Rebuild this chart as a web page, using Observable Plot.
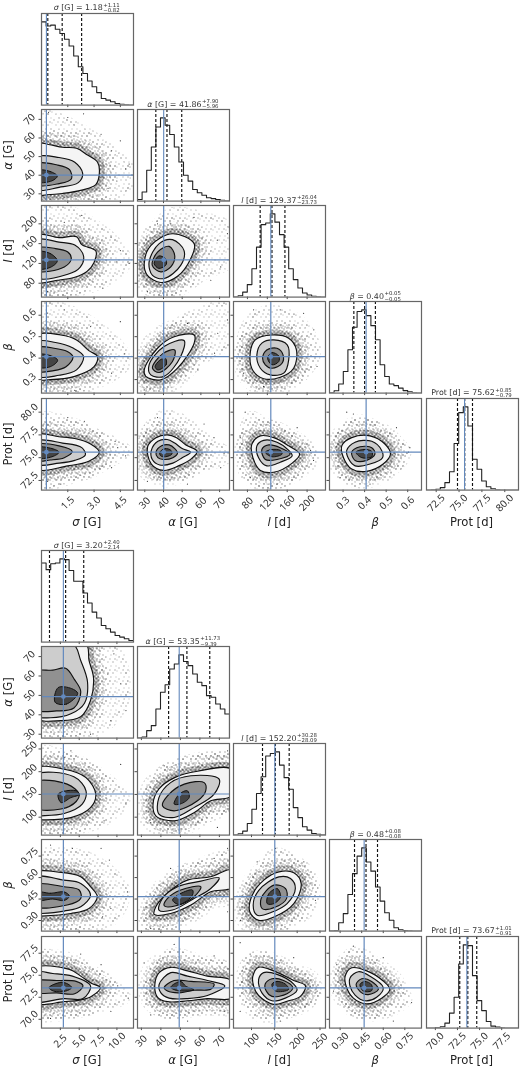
<!DOCTYPE html>
<html><head><meta charset="utf-8">
<script src="https://cdn.jsdelivr.net/npm/d3@7"></script>
<script src="https://cdn.jsdelivr.net/npm/@observablehq/plot@0.6"></script>
<style>
html,body{margin:0;padding:0;background:#fff}
#root{position:relative;width:520px;height:1068px;overflow:hidden;font-family:"DejaVu Sans",sans-serif;color:#222;filter:blur(.38px)}
#root svg{position:absolute;background:transparent;overflow:visible}
.title{position:absolute;transform:translate(-50%,-50%);font-size:7.9px;white-space:nowrap;display:flex;align-items:center;color:#333}
.ss{display:inline-flex;flex-direction:column;font-size:5.4px;line-height:5.2px;margin-left:.5px}
.lab{position:absolute;font-size:11.6px;white-space:nowrap;color:#222}
.lx{transform:translate(-50%,-50%)}
.ly{transform:translate(-50%,-50%) rotate(-90deg)}
</style></head><body>
<svg width="0" height="0" style="position:absolute"><defs id="defs"></defs></svg>
<div id="root"></div>
<script>
// ---------- axis names / ticks / posterior summaries ----------
const labelsHtml = ["<i>σ</i> [G]","<i>α</i> [G]","<i>l</i> [d]","<i>β</i>","Prot [d]"];
const domainsA = [[0,5.25],[26.1,75.3],[52,237],[0.237,0.664],[71.44,81.5]];
const domainsB = [[0,12.2],[28,75.2],[60.6,262],[0.226,0.866],[69,79.4]];
const ticksA = [[1.5,3,4.5],[30,40,50,60,70],[80,120,160,200],[0.3,0.4,0.5,0.6],[72.5,75,77.5,80]];
const ticksB = [[2.5,5,7.5,10],[30,40,50,60,70],[100,150,200,250],[0.3,0.45,0.6,0.75],[70,72.5,75,77.5]];
const formatsA = [".1f","d","d",".1f",".1f"];
const formatsB = [".1f","d","d",".2f",".1f"];
const truthsA = [0.28,40.1,127,0.407,75.6];
const truthsB = [2.9,49.4,151,0.467,73.56];
const mediansA = [1.18,41.86,129.37,0.40,75.62];
const plusA = [1.11,7.90,26.04,0.05,0.85];
const minusA = [0.82,5.96,23.73,0.05,0.79];
const mediansB = [3.20,53.35,152.20,0.48,73.67];
const plusB = [2.40,11.73,30.28,0.08,1.01];
const minusB = [2.14,9.39,28.09,0.08,0.91];

// ---------- 1D histograms (20 bins, relative height) ----------
const histA_sigma = [100,95,96,91,86,79,71,59,46,38,29,22,15,8,6,4,2,1,.5,.1];
const histA_alpha = [2,11,37,65,89,100,91,80,65,47,31,24,14,10,7,4,3,2,1,.5];
const histA_l = [.4,1.6,6,15,34,60,87,89,100,90,75,60,34,21,11,5,2.5,1,.4,.2];
const histA_beta = [.8,2.8,11,26,52,79,98,100,93,81,64,34,20,11,9,6,3,1.6,.5,.2];
const histA_prot = [.2,.4,1,3,9,22,56,93,100,77,37,25,11,4,1.6,.5,.2,0,0,0];
const histB_sigma = [95,87,94,95,100,99,86,73,73,59,47,36,29,20,16,12,8,6,4,2];
const histB_alpha = [.4,1.2,9,15,35,55,64,83,89,100,92,87,77,67,63,51,49,41,35,29];
const histB_l = [.4,1.6,4.8,14,31,50,70,95,98,100,84,69,55,33,21,10,6,2,1,.4];
const histB_beta = [.4,.8,10,21,44,69,90,100,83,72,53,36,22,13,4,1.6,.8,.4,0,0];
const histB_prot = [0,.2,.8,1.6,6,18,37,77,100,99,63,33,21,8,2.4,1.2,.4,0,0,0];

// ---------- 2D panels: [sample cloud outline, 2σ, 1.5σ, 1σ, 0.5σ contours, outlying samples], each as [x,y] ----------
const A_alpha_sigma = [
 [[-.3,74],[1,72],[2.5,65],[4,55],[5.2,43],[5,33],[3.8,27],[-.3,25]],
 [[-.3,57],[.4,56.5],[1.2,55],[2,54.5],[2.6,51],[3.2,47],[3.3,41],[3.1,35],[2.3,32],[1.2,30.2],[.3,29.5],[-.3,29.5]],
 [[-.3,49.5],[1,49.5],[1.9,47],[2.35,41],[2.1,36],[1,33.5],[-.3,32.5]],
 [[-.3,46],[.9,45.5],[1.6,43],[1.7,38],[1,35.5],[-.3,35]],
 [[-.3,42.5],[.5,42],[.9,39.5],[.6,37],[-.3,36.5]],
 [[4.5,58.5],[4.8,43.4],[4.3,36.9],[4,53.1],[3.4,62],[2.4,73],[1.5,71],[.4,73.8],[5,46],[3.8,33]]];
const A_l_sigma = [
 [[-.3,232],[1.5,232],[3,205],[4.5,160],[5,120],[3.5,75],[-.3,60]],
 [[-.3,177],[1,172],[2,174],[2.3,158],[3.1,145],[3,122],[2.6,104],[1.9,92],[.9,86],[-.3,83]],
 [[-.3,167],[1,163],[1.9,157],[2.4,135],[2.2,112],[1.5,98],[-.3,92]],
 [[-.3,150],[.8,150],[1.5,143],[1.7,130],[1.3,113],[-.3,106]],
 [[-.3,143],[.5,140],[.9,125],[.5,112],[-.3,110]],
 [[4.5,146],[4.3,123],[3.5,70],[2.3,217],[1.3,203],[5,120],[.35,63],[3.97,173]]];
const A_beta_sigma = [
 [[-.3,.66],[1,.65],[2.5,.6],[4.5,.47],[5,.38],[3.5,.28],[-.3,.235]],
 [[-.3,.505],[1.1,.508],[2,.485],[2.7,.435],[3.2,.408],[3,.36],[1.9,.315],[.5,.3],[-.3,.305]],
 [[-.3,.475],[.8,.473],[1.8,.447],[2.4,.408],[2,.345],[1,.32],[-.3,.318]],
 [[-.3,.447],[.8,.445],[1.5,.43],[1.8,.405],[1.4,.36],[.7,.342],[-.3,.34]],
 [[-.3,.415],[.5,.412],[.92,.39],[.5,.36],[-.3,.36]],
 [[4.5,.57],[1.3,.625],[4.75,.42],[4,.33],[1.9,.25],[2.8,.547],[.35,.61]]];
const A_prot_sigma = [
 [[-.3,79.5],[1.5,79.3],[3,78],[5,75.8],[3.5,73.8],[1.5,72.3],[-.3,71.7]],
 [[-.3,77.5],[1,77.3],[1.9,77.1],[2.8,76.5],[3.3,75.6],[2.7,74.6],[1.5,74.1],[-.3,73.8]],
 [[-.3,76.8],[1.2,76.6],[2.3,76.1],[2.5,75.3],[1.9,74.7],[1,74.4],[-.3,74.3]],
 [[-.3,76.4],[1,76.3],[1.75,75.7],[1.3,75],[.5,74.75],[-.3,74.7]],
 [[-.3,76.1],[.6,76],[1,75.6],[.6,75.1],[-.3,75]],
 [[2.45,79],[1.5,79.4],[4.35,76.1],[4.8,75.2],[4,73.9],[1.1,72.1],[.35,72.4],[4.2,76.8]]];
const A_l_alpha = [
 [[27.5,125],[31,72],[38,54],[50,62],[62,92],[76,120],[76,195],[60,220],[45,228],[35,200]],
 [[44.8,180],[56.4,160],[54.6,130],[47.5,94],[38.6,81.5],[31.4,96],[29.7,120],[33.2,156]],
 [[44.8,168],[51,146],[49.2,116],[40.3,89.5],[34.1,96],[32.3,123],[37.7,160]],
 [[43,154.5],[46,136],[43.9,113],[38.6,103],[34,116],[36.8,143]],
 [[37.5,135],[41,130],[41.5,118],[37.5,110],[35,120]],
 [[56.3,213],[74.2,180],[70.6,113],[65.3,86],[31.4,63],[43.9,200],[68.8,167],[36.8,200]]];
const A_beta_alpha = [
 [[28,.33],[33,.44],[45,.56],[60,.63],[76,.65],[76,.47],[60,.38],[45,.29],[33,.25]],
 [[56.4,.508],[56.4,.47],[47.5,.353],[38.6,.299],[30.5,.315],[29.7,.345],[36.8,.446],[45.7,.5]],
 [[51,.482],[49.2,.408],[40.3,.315],[33.2,.322],[32.3,.369],[40.3,.454]],
 [[46,.438],[44.8,.384],[37.7,.333],[34.1,.353],[39.5,.42]],
 [[41,.4],[41.5,.37],[37,.345],[35.5,.36],[38,.39]],
 [[74.2,.578],[52.8,.562],[67.3,.423],[58.4,.345],[29.7,.252],[43.9,.485],[69,.516]]];
const A_prot_alpha = [
 [[28.5,76.6],[33,79],[41,80],[52,79.3],[65,77],[76,75.6],[76,74.9],[62,73.7],[47,72.6],[36,72.8]],
 [[31.5,76.2],[36,77.2],[42,77.5],[47,77.2],[52,76.4],[58,75.7],[55,74.9],[48,74.1],[40,73.6],[33.5,74.3]],
 [[33.5,75.8],[37,76.8],[42,77],[46,76.6],[50,76],[54.5,75.6],[50,75],[45,74.4],[38,74.2],[34,74.8]],
 [[36,75.6],[39,76.3],[43,76.4],[46,76],[47.5,75.5],[45,75],[40,74.8],[37,75]],
 [[38,75.6],[41,76],[44,75.8],[44.5,75.4],[41,75.1],[38.5,75.2]],
 [[36.8,79.4],[67,77.2],[72.4,75.5],[52.8,72.1],[31.4,72.4],[61.7,78.7],[70.6,73.9]]];
const A_beta_l = [
 [[62,.42],[72,.55],[95,.61],[125,.635],[170,.61],[205,.54],[222,.42],[195,.31],[150,.265],[100,.26],[75,.31]],
 [[85.6,.423],[95.7,.485],[129.4,.508],[163,.493],[178.5,.439],[173,.353],[146,.311],[112.6,.304],[91,.342]],
 [[99,.415],[109,.47],[133,.485],[160,.462],[163,.392],[153,.33],[126,.322],[106,.353]],
 [[110.5,.4],[119,.438],[139.5,.446],[151.6,.415],[149.6,.376],[129.4,.353],[116,.369]],
 [[120.6,.4],[129.4,.426],[143,.41],[143,.384],[129.4,.369]],
 [[213.5,.532],[72,.33],[193,.609],[92.4,.625],[112.6,.268],[220,.361],[146,.625]]];
const A_prot_l = [
 [[65.5,77.2],[86,79.8],[119,79],[160,78],[213,75.8],[217,74.5],[173,72.5],[112.6,71.7],[72,72.8]],
 [[89,76.5],[106,77.4],[133,77.2],[163,76.3],[185,75.4],[170,74.4],[133,73.4],[106,73.6],[91,75]],
 [[99,76.3],[112.6,76.9],[139.5,76.7],[163,75.8],[170,75.2],[146,74.5],[119,74.1],[102.5,75]],
 [[109,75.9],[123,76.4],[146,76.1],[166,75.4],[139.5,74.8],[116,74.8]],
 [[116,75.6],[129.4,75.9],[146,75.8],[149.6,75.4],[129.4,75.1]],
 [[75.5,80],[65.5,77.2],[213,74.7],[139.5,72.1],[180,78.3],[207,75.8],[85.7,72.8]]];
const A_prot_beta = [
 [[.263,77.2],[.325,79],[.394,79.4],[.502,78],[.602,75.8],[.579,74.3],[.471,72.8],[.348,72.1],[.271,74]],
 [[.294,76.3],[.34,77.2],[.425,77.4],[.494,76.5],[.52,75.4],[.486,74.3],[.409,73.5],[.34,73.75],[.302,75]],
 [[.317,75.8],[.356,76.7],[.433,76.8],[.479,75.8],[.483,75],[.425,74.3],[.356,74.1],[.325,74.9]],
 [[.34,75.6],[.379,76.2],[.433,76.1],[.448,75.4],[.409,74.7],[.356,74.7]],
 [[.36,75.6],[.394,75.9],[.433,75.7],[.433,75.1],[.387,75]],
 [[.348,79.8],[.604,75.6],[.286,72.8],[.425,72.1],[.548,78.3],[.61,76.1],[.317,80]]];

const B_alpha_sigma = [
 [[-1,76.5],[9.6,76.5],[11.4,49],[8.3,32],[3,28.5],[-1,27.5]],
 [[-1,39],[2.6,37],[5.2,39],[6.5,47.4],[6.9,59],[6.3,68],[5.9,76.5],[-1,76.5]],
 [[-1,40],[1.2,38.5],[3.9,40.5],[5.7,46],[6.1,57],[5.2,68],[4.2,76.5],[-1,76.5]],
 [[-1,43],[2,42],[4.3,43.5],[5.2,52],[4.4,58],[3.2,64],[1.5,63],[-1,62]],
 [[1.8,46.5],[3.3,45.5],[4.8,51],[4,53.5],[2.2,54]],
 [[9.6,71.4],[11.2,42.2],[9.2,37],[6.5,30],[8.8,61],[10.5,56]]];
const B_l_sigma = [
 [[-1,246],[4.3,235],[10.5,165],[11.4,136],[8.3,85],[3,64],[-1,62]],
 [[-1,205.5],[3,205.5],[5.9,187],[7.2,150.6],[6.5,121],[3.9,99],[0,94],[-1,94]],
 [[-1,191],[4.3,188.7],[5.9,158],[5.4,128.7],[3,108],[0,103],[-1,103]],
 [[-1,176],[3.4,172.6],[5,150.6],[4.6,134.5],[2.6,118],[-1,122]],
 [[2.2,150],[3,157],[4.6,158],[5,150],[3.9,143],[2.6,132]],
 [[10.5,216],[11.2,129],[8.3,92],[3.9,246],[9.6,158],[3,231]]];
const B_beta_sigma = [
 [[-1,.757],[3.9,.792],[8.7,.687],[11.4,.5],[9.6,.291],[3.9,.233],[-1,.23]],
 [[-1,.629],[2.6,.636],[5.2,.606],[6.5,.536],[7.4,.466],[6.3,.384],[3.9,.349],[0,.331],[-1,.331]],
 [[-1,.599],[3,.582],[5.2,.559],[6.5,.478],[5.2,.396],[3,.366],[0,.349],[-1,.349]],
 [[-1,.548],[3,.536],[5,.513],[5.2,.454],[3.4,.408],[-1,.403]],
 [[-1,.5],[1.2,.49],[3,.5],[3.7,.47],[3,.44],[1.5,.45],[-1,.44]],
 [[7.9,.804],[4.1,.804],[9,.722],[11.4,.5],[9.2,.384],[8.1,.326],[1.2,.827]]];
const B_prot_sigma = [
 [[-1,77.8],[1.2,77.4],[4.8,76.6],[10,74],[11.5,72.4],[7,70.9],[1.2,70],[-1,70.1]],
 [[-1,75.74],[3.7,75.67],[5.2,74.9],[6.6,74.1],[7.8,73.6],[6.6,72.6],[5.2,72.2],[3,72],[-1,71.9]],
 [[-1,75.3],[1.5,75.2],[4.1,74.9],[6.5,73.8],[5.5,72.35],[3,72.35],[-1,72.1]],
 [[-1,74.3],[2,74.4],[4.6,74.3],[5.5,73.8],[4.4,72.9],[2,73],[-1,73.1]],
 [[1,73.6],[2.6,74.2],[3.5,74],[4,73.6],[3.2,73.2],[1.6,73.2]],
 [[11.5,72.4],[10.1,73.8],[9.2,70.9],[1.2,70.1],[5.2,77.4],[7.9,76.2]]];
const B_l_alpha = [
 [[32.3,136],[38.3,195],[48.5,224],[76,235],[76,121],[62.2,92],[46.8,70],[34.8,88]],
 [[36,130],[39,162],[47,187],[58.8,201],[76,205.5],[76,147],[65.6,136],[57,110],[47,92],[37.4,103]],
 [[69.9,183.6],[55.4,191],[45,176],[39,143],[39,106.7],[46.8,99.4],[57,121],[67.3,150.6]],
 [[62.2,176],[52,172.6],[43.4,147],[40.8,125],[46.8,114],[58.8,136],[63,158]],
 [[46.8,129],[49.4,150.6],[53.6,158],[54.5,143],[50,129]],
 [[74.2,246],[69,235],[34.8,88],[69,77.4],[41.7,213],[75,114]]];
const B_beta_alpha = [
 [[31.4,.373],[41.7,.571],[55.4,.687],[76,.769],[76,.548],[62.2,.384],[48.5,.268],[33.1,.233]],
 [[76,.652],[65.6,.606],[53.6,.582],[44.2,.501],[37.4,.396],[36.6,.342],[45,.349],[55.4,.408],[65.6,.501],[76,.529]],
 [[69.9,.599],[60.5,.575],[48.5,.536],[40.8,.454],[39,.373],[46,.373],[57,.454],[65.6,.524]],
 [[60.5,.536],[50.2,.513],[43.4,.454],[41.7,.403],[47.7,.403],[57,.466]],
 [[46,.443],[50.2,.489],[56.2,.513],[56.2,.478],[49.4,.412]],
 [[74.2,.804],[67.3,.734],[74.2,.361],[34.8,.245],[55.4,.233],[45,.664]]];
const B_beta_l = [
 [[76,.441],[112.4,.664],[152.6,.792],[200,.722],[244,.535],[229,.348],[178,.266],[112.4,.254],[79.6,.324]],
 [[160,.64],[192.7,.633],[208.8,.558],[192.7,.418],[149,.324],[116,.301],[96.4,.359],[101.5,.476],[127,.582]],
 [[160,.605],[185.4,.593],[196,.523],[178,.418],[145.3,.359],[112.4,.336],[103.7,.406],[116,.511]],
 [[149,.547],[174.6,.523],[176.7,.453],[152.6,.394],[123.4,.383],[121,.453]],
 [[138,.488],[156.4,.523],[163.6,.465],[149,.418],[134.3,.418]],
 [[152.6,.804],[240,.441],[76,.301],[178,.242],[112.4,.71],[214.6,.71]]];
const B_prot_alpha = [
 [[33.1,74],[38.3,76.4],[45.1,77.8],[60.5,77],[76,75.9],[76,71.3],[60.5,70.9],[41.7,70.3],[33.1,71.9]],
 [[36.9,73.95],[39.1,75.3],[45.1,75.9],[53.7,75.5],[63.9,74.9],[76,74.4],[76,72.4],[63.9,72.35],[53.7,72.1],[43.4,72],[38.3,72.5]],
 [[39.1,73.95],[45.1,75.3],[53.7,74.9],[63.9,74.4],[72.8,73.8],[63.9,72.7],[53.7,72.35],[44.2,72.4],[40,73]],
 [[41.7,73.6],[46.8,74.4],[55.4,74.3],[67.3,74],[65.6,73.4],[57,73.3],[49.4,73],[43.4,73.2]],
 [[45.1,73.65],[50.2,74.3],[52.8,73.75],[57,73.35],[48.5,73.25]],
 [[31.4,76.4],[46.8,78.5],[67.3,77.2],[72.5,70.9],[34.8,70.5],[53.7,69.8]]];
const B_prot_l = [
 [[78.9,75.5],[90,76.8],[119,77.4],[192.4,75.9],[240,73.95],[243.6,72.4],[192.4,70.7],[126.5,69.8],[82.6,71.7]],
 [[103,74.9],[115.5,75.9],[148.4,75.5],[192.4,74.4],[218,73.8],[207,72.6],[177.7,72.05],[148.4,71.7],[115.5,72.7],[104.5,73.8]],
 [[115.5,74.5],[126.5,75.3],[156,75.1],[192.4,74],[199.7,73.3],[174,72.4],[144.8,72.1],[122.8,73]],
 [[130,74],[144.8,74.6],[170.4,74.4],[190.2,73.6],[177.7,72.9],[144.8,72.6],[132.3,73.2]],
 [[144.8,74],[156,74.3],[174,74],[181.4,73.4],[152,73.2]],
 [[75.2,78.7],[97,77.4],[243.6,73.2],[163,69.8],[192.4,77],[75.2,70.9]]];
const B_prot_beta = [
 [[.288,75.5],[.369,77.8],[.508,77.4],[.646,74.7],[.785,72.4],[.693,70.9],[.485,70.1],[.323,71.7]],
 [[.335,74.9],[.381,75.85],[.485,75.5],[.6,74.35],[.646,73.4],[.589,72.4],[.485,71.75],[.392,72.4],[.342,73.75]],
 [[.369,74.7],[.427,75.4],[.508,74.9],[.6,73.6],[.554,72.5],[.473,72.1],[.404,72.75],[.369,73.75]],
 [[.411,73.95],[.45,74.6],[.519,74.3],[.566,73.4],[.496,72.8],[.45,73]],
 [[.438,73.95],[.473,74.3],[.519,73.9],[.519,73.25],[.462,73.2]],
 [[.277,76.2],[.392,78.3],[.797,71.9],[.67,69.8],[.6,77],[.254,73.2]]];

// ---------- texture of sample specks ----------
const speckTiles = {
 sparse:[13,11,[[2,3,.5],[7,1,.35],[11,5,.55],[4,8,.4],[9,8,.55],[12,1,.3],[0,6,.3],[6,5,.45]]],
 medium:[7,6,[[1,1,.7],[4,3,.55],[6,0,.6],[2,5,.6],[5,5,.4]]],
 dense:[4,4,[[0,0,.95],[2,1,.85],[1,3,.9],[3,2,.8],[3,3,.4]]]
};
const defs = document.getElementById("defs");
defs.innerHTML = Object.entries(speckTiles).map(([id,[w,h,s]]) =>
 `<pattern id="${id}" width="${w}" height="${h}" patternUnits="userSpaceOnUse">`+
 s.map(([x,y,o])=>`<rect x="${x}" y="${y}" width="1" height="1" fill="#000" opacity="${o}"/>`).join("")+`</pattern>`).join("");

// ---------- layout ----------
const PW=92, PH=91.6, ML=42, MR=4, MT=4, MB=40;
const colX=i=>40.7+i*96.2;
const root=document.getElementById("root");
const ink="#4a4a4a", blue="#6389bd";
const px=d=>d[0], py=d=>d[1];

function place(svg,l,t){ svg.style.left=(l-ML)+"px"; svg.style.top=(t-MT)+"px"; root.appendChild(svg); }
function xAxis(c,col,row){
  return Plot.axisX({ticks:c.ticks[col],tickSize:2.5,stroke:ink,label:null,tickRotate:-45,textAnchor:"middle",lineAnchor:"middle",tickPadding:10.5,fontSize:10,fill:"#333",
      tickFormat:row===4?d3.format(c.formats[col]):()=>"",anchor:"bottom"});
}
function yAxis(c,row,col){
  return Plot.axisY({ticks:c.ticks[row],tickSize:2.5,stroke:ink,label:null,tickRotate:-45,textAnchor:"middle",lineAnchor:"middle",tickPadding:9.5,fontSize:10,fill:"#333",
      tickFormat:col===0?d3.format(c.formats[row]):()=>"",anchor:"left"});
}
const base={width:ML+PW+MR,height:MT+PH+MB,marginLeft:ML,marginRight:MR,marginTop:MT,marginBottom:MB,style:{background:"transparent"}};

function hist(c,i,top){
  const v=c.hist[i], [d0,d1]=c.domains[i], w=(d1-d0)/v.length;
  const pts=[[d0,0],...v.map((h,k)=>[d0+k*w,h]),[d1,v[v.length-1]],[d1,0]];
  const q=[c.med[i]-c.minus[i],c.med[i],c.med[i]+c.plus[i]];
  place(Plot.plot({...base,x:{domain:c.domains[i]},y:{domain:[0,110],axis:null},marks:[
    xAxis(c,i,i),
    Plot.line(pts,{x:px,y:py,curve:"step-after",stroke:"#222",strokeWidth:1.1,clip:true}),
    Plot.ruleX(q,{stroke:"#111",strokeWidth:1.15,strokeDasharray:"3,2"}),
    Plot.ruleX([c.truth[i]],{stroke:blue,strokeWidth:1.1}),
    Plot.frame({stroke:"#666",strokeWidth:1.2})
  ]}),colX(i),top);
}
function pair(c,row,col,top,polys){
  const [cloud,c20,c15,c10,c05,far]=polys;
  const ln=(d,o)=>Plot.line(d,{x:px,y:py,curve:"catmull-rom-closed",clip:true,...o});
  place(Plot.plot({...base,x:{domain:c.domains[col]},y:{domain:c.domains[row]},marks:[
    ln(cloud,{fill:"url(#sparse)",stroke:"url(#sparse)",strokeWidth:6}),
    Plot.dot(far,{x:px,y:py,r:.6,fill:"#333",clip:true}),
    ln(c20,{stroke:"url(#sparse)",strokeWidth:34}),
    ln(c20,{stroke:"url(#medium)",strokeWidth:24}),
    ln(c20,{stroke:"url(#dense)",strokeWidth:11}),
    ln(c20,{fill:"#f5f5f5",stroke:"#111",strokeWidth:1.15}),
    ln(c15,{fill:"#cdcdcd",stroke:"#111",strokeWidth:1.15}),
    ln(c10,{fill:"#919191",stroke:"#111",strokeWidth:1.15}),
    ln(c05,{fill:"#444",stroke:"#111",strokeWidth:1}),
    xAxis(c,col,row),
    yAxis(c,row,col),
    Plot.ruleX([c.truth[col]],{stroke:blue,strokeWidth:1.2}),
    Plot.ruleY([c.truth[row]],{stroke:blue,strokeWidth:1.2}),
    Plot.dot([[c.truth[col],c.truth[row]]],{x:px,y:py,r:2.4,fill:blue}),
    Plot.frame({stroke:"#666",strokeWidth:1.2})
  ]}),colX(col),top);
}
function title(c,i,top){
  const f=d3.format(".2f");
  const el=document.createElement("div"); el.className="title";
  el.style.left=(colX(i)+PW/2)+"px"; el.style.top=(top-5)+"px";
  el.innerHTML=`<span>${labelsHtml[i]} = ${f(c.med[i])}</span><span class="ss"><span>+${f(c.plus[i])}</span><span>−${f(c.minus[i])}</span></span>`;
  root.appendChild(el);
}
function labels(c){
  const lastTop=c.rowY(4);
  labelsHtml.forEach((h,i)=>{
    const a=document.createElement("div"); a.className="lab lx"; a.innerHTML=h;
    a.style.left=(colX(i)+PW/2)+"px"; a.style.top=(lastTop+PH+32.5)+"px"; root.appendChild(a);
    if(i>0){
      const b=document.createElement("div"); b.className="lab ly"; b.innerHTML=h;
      b.style.left="8px"; b.style.top=(c.rowY(i)+PH/2)+"px"; root.appendChild(b);
    }
  });
}
function corner(c,grid){
  for(let i=0;i<5;i++){ hist(c,i,c.rowY(i)); title(c,i,c.rowY(i)); }
  grid.forEach(([r,k,p])=>pair(c,r,k,c.rowY(r),p));
  labels(c);
}
corner({domains:domainsA,ticks:ticksA,formats:formatsA,truth:truthsA,med:mediansA,plus:plusA,minus:minusA,
  hist:[histA_sigma,histA_alpha,histA_l,histA_beta,histA_prot],rowY:r=>12.7+r*96.25},
 [[1,0,A_alpha_sigma],[2,0,A_l_sigma],[3,0,A_beta_sigma],[4,0,A_prot_sigma],[2,1,A_l_alpha],[3,1,A_beta_alpha],[4,1,A_prot_alpha],[3,2,A_beta_l],[4,2,A_prot_l],[4,3,A_prot_beta]]);
corner({domains:domainsB,ticks:ticksB,formats:formatsB,truth:truthsB,med:mediansB,plus:plusB,minus:minusB,
  hist:[histB_sigma,histB_alpha,histB_l,histB_beta,histB_prot],rowY:r=>550+r*96.4},
 [[1,0,B_alpha_sigma],[2,0,B_l_sigma],[3,0,B_beta_sigma],[4,0,B_prot_sigma],[2,1,B_l_alpha],[3,1,B_beta_alpha],[4,1,B_prot_alpha],[3,2,B_beta_l],[4,2,B_prot_l],[4,3,B_prot_beta]]);
</script>
</body></html>
